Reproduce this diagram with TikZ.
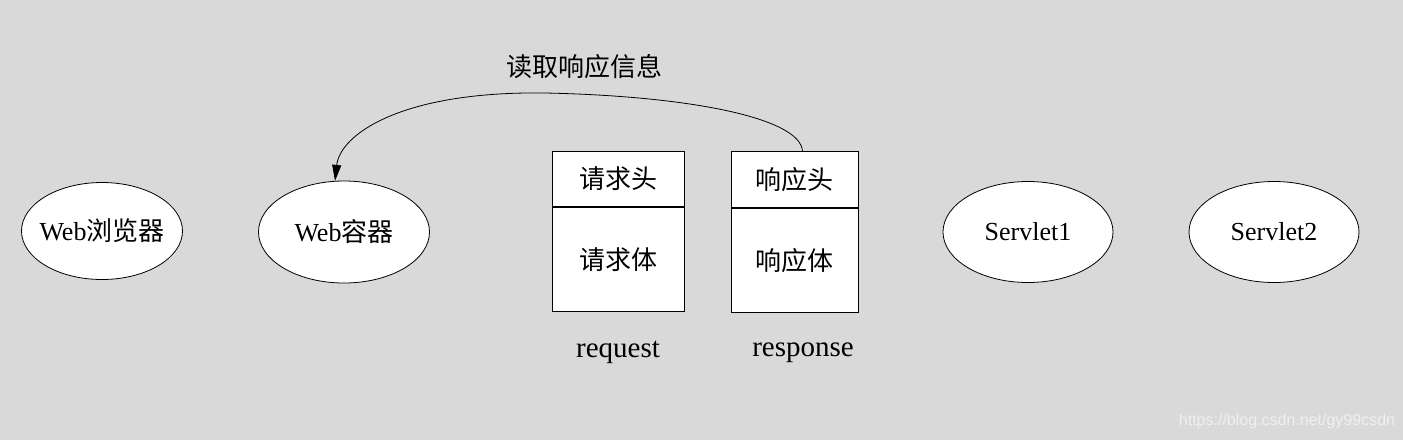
\documentclass[tikz,border=0pt]{standalone}
\usepackage{fontspec}
\setmainfont{Liberation Serif}
\newfontfamily\cjk{Noto Sans CJK SC}
\newfontfamily\wmfont{Liberation Sans}
\usetikzlibrary{arrows.meta, positioning, shapes.geometric}
\definecolor{bgGrey}{HTML}{D9D9D9}
\definecolor{markGrey}{HTML}{F0F0F0}

\begin{document}
\begin{tikzpicture}[x=1pt, y=-1pt, font=\fontsize{26}{30}\selectfont,
    actor/.style={ellipse, draw=black, fill=white, line width=0.8pt, inner sep=0pt},
    part/.style={rectangle, draw=black, fill=white, line width=0.8pt, inner sep=0pt, anchor=north west}]
    \fill[bgGrey] (0,0) rectangle (1403,440);
    \useasboundingbox (0,0) rectangle (1403,440);

    % endpoints
    \node[actor, inner xsep=-7pt, minimum width=161pt, minimum height=97pt] (browser) at (102,231) {Web{\cjk 浏览器}};
    \node[actor, minimum width=171pt, minimum height=102pt] (container) at (344,232) {Web{\cjk 容器}};
    \node[actor, minimum width=170pt, minimum height=101pt] (servlet1) at (1028,232) {Servlet1};
    \node[actor, minimum width=170pt, minimum height=101pt] (servlet2) at (1274,232) {Servlet2};

    % request / response objects
    \node[part, minimum width=132pt, minimum height=55pt] (reqhead) at (552,151) {\cjk 请求头};
    \node[part, minimum width=132pt, minimum height=104pt] (reqbody) at (reqhead.south west) {\cjk 请求体};
    \node[part, minimum width=127pt, minimum height=56pt] (resphead) at (731,151) {\cjk 响应头};
    \node[part, minimum width=127pt, minimum height=104pt] (respbody) at (resphead.south west) {\cjk 响应体};
    \node[font=\fontsize{29}{30}\selectfont] (reqlabel) at (618,352) {request};
    \node[font=\fontsize{29}{30}\selectfont] (resplabel) at (803,353) {response};

    \draw[-{Triangle[length=16pt,width=9pt]}, line width=0.8pt] (resphead.75)
      .. controls (800,118) and (690,96) .. (545,93)
      .. controls (400,91) and (340,135) .. (container.100);
    \node (readlabel) at (584,67) {\cjk 读取响应信息};

    \node[font=\wmfont\fontsize{16}{18}\selectfont, text=markGrey] (mark) at (1287,421) {https://blog.csdn.net/gy99csdn};
\end{tikzpicture}
\end{document}
